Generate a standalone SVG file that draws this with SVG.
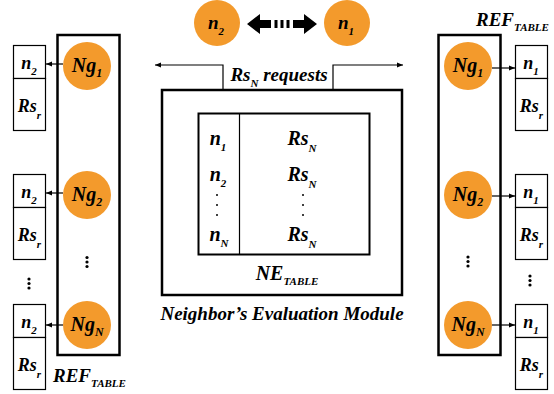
<svg xmlns="http://www.w3.org/2000/svg" width="554" height="394" viewBox="0 0 554 394">
<defs>
<marker id="ah" viewBox="0 0 10 10" refX="10" refY="5" markerWidth="6" markerHeight="6" orient="auto" markerUnits="userSpaceOnUse">
<path d="M0,1 L10,5 L0,9 z" fill="#000"/>
</marker>
</defs>
<style>
text{font-family:"Liberation Serif","Times New Roman",serif;font-weight:700;font-style:italic;fill:#000}
.ng{font-size:20px}
.ref{font-size:19px}
.tbl{font-size:20px}
.box{font-size:18px}
.top{font-size:19px}
.lbl{font-size:19px}
.sub{font-size:11px}
.ssub{font-size:12px}
.node{fill:#F39A2C}
.frame{fill:none;stroke:#000;stroke-width:2.5}
.cell{fill:#fff;stroke:#000;stroke-width:1.2}
.ln{fill:none;stroke:#000;stroke-width:1.2}
.dot{fill:#000}
</style>
<rect width="554" height="394" fill="#fff"/>

<!-- top nodes -->
<g id="n2top"><circle class="node" cx="217" cy="23" r="23"/><text class="top" x="216" y="29" text-anchor="middle">n<tspan class="sub" dy="6">2</tspan></text></g>
<g id="n1top"><circle class="node" cx="347" cy="23" r="23"/><text class="top" x="346" y="29" text-anchor="middle">n<tspan class="sub" dy="6">1</tspan></text></g>

<!-- left REF table -->
<g id="leftRef">
<rect class="frame" x="57.5" y="35" width="62" height="320"/>
<text class="ref" x="53" y="382">REF<tspan class="sub" dy="5">TABLE</tspan></text>
<circle cx="87" cy="257.5" r="1.6" class="dot"/><circle cx="87" cy="262" r="1.6" class="dot"/><circle cx="87" cy="266.5" r="1.6" class="dot"/>
<circle cx="29" cy="279" r="1.6" class="dot"/><circle cx="29" cy="283.5" r="1.6" class="dot"/><circle cx="29" cy="288" r="1.6" class="dot"/>
</g>
<g id="leftNg1"><circle class="node" cx="87" cy="66" r="24"/><text class="ng" x="87" y="72" text-anchor="middle">Ng<tspan class="ssub" dy="5">1</tspan></text></g>
<g id="leftNg2"><circle class="node" cx="87" cy="195" r="24"/><text class="ng" x="87" y="201" text-anchor="middle">Ng<tspan class="ssub" dy="5">2</tspan></text></g>
<g id="leftNgN"><circle class="node" cx="87" cy="325" r="24"/><text class="ng" x="87" y="331" text-anchor="middle">Ng<tspan class="ssub" dy="5">N</tspan></text></g>
<g id="leftBox1"><rect class="cell" x="13.5" y="45.5" width="32" height="33"/><rect class="cell" x="13.5" y="78.5" width="32" height="52"/><text class="box" x="29" y="69" text-anchor="middle">n<tspan class="sub" dy="6">2</tspan></text><text class="box" x="29.5" y="112" text-anchor="middle">Rs<tspan class="sub" dy="7">r</tspan></text></g>
<g id="leftBox2"><rect class="cell" x="13.5" y="174.5" width="32" height="33"/><rect class="cell" x="13.5" y="207.5" width="32" height="52"/><text class="box" x="29" y="198" text-anchor="middle">n<tspan class="sub" dy="6">2</tspan></text><text class="box" x="29.5" y="241" text-anchor="middle">Rs<tspan class="sub" dy="7">r</tspan></text></g>
<g id="leftBox3"><rect class="cell" x="13.5" y="304.5" width="32" height="33"/><rect class="cell" x="13.5" y="337.5" width="32" height="52"/><text class="box" x="29" y="328" text-anchor="middle">n<tspan class="sub" dy="6">2</tspan></text><text class="box" x="29.5" y="371" text-anchor="middle">Rs<tspan class="sub" dy="7">r</tspan></text></g>

<!-- right REF table -->
<g id="rightRef">
<rect class="frame" x="438.5" y="35" width="62" height="320"/>
<text class="ref" x="476" y="26">REF<tspan class="sub" dy="5">TABLE</tspan></text>
<circle cx="468" cy="257" r="1.6" class="dot"/><circle cx="468" cy="261.5" r="1.6" class="dot"/><circle cx="468" cy="266" r="1.6" class="dot"/>
<circle cx="530" cy="276" r="1.6" class="dot"/><circle cx="530" cy="280.5" r="1.6" class="dot"/><circle cx="530" cy="285" r="1.6" class="dot"/>
</g>
<g id="rightNg1"><circle class="node" cx="468" cy="66" r="24"/><text class="ng" x="468" y="72" text-anchor="middle">Ng<tspan class="ssub" dy="5">1</tspan></text></g>
<g id="rightNg2"><circle class="node" cx="468" cy="195" r="24"/><text class="ng" x="468" y="201" text-anchor="middle">Ng<tspan class="ssub" dy="5">2</tspan></text></g>
<g id="rightNgN"><circle class="node" cx="468" cy="325" r="24"/><text class="ng" x="468" y="331" text-anchor="middle">Ng<tspan class="ssub" dy="5">N</tspan></text></g>
<g id="rightBox1"><rect class="cell" x="515.5" y="45.5" width="32" height="33"/><rect class="cell" x="515.5" y="78.5" width="32" height="52"/><text class="box" x="531" y="69" text-anchor="middle">n<tspan class="sub" dy="6">1</tspan></text><text class="box" x="531.5" y="112" text-anchor="middle">Rs<tspan class="sub" dy="7">r</tspan></text></g>
<g id="rightBox2"><rect class="cell" x="515.5" y="174.5" width="32" height="33"/><rect class="cell" x="515.5" y="207.5" width="32" height="52"/><text class="box" x="531" y="198" text-anchor="middle">n<tspan class="sub" dy="6">1</tspan></text><text class="box" x="531.5" y="241" text-anchor="middle">Rs<tspan class="sub" dy="7">r</tspan></text></g>
<g id="rightBox3"><rect class="cell" x="515.5" y="304.5" width="32" height="33"/><rect class="cell" x="515.5" y="337.5" width="32" height="52"/><text class="box" x="531" y="328" text-anchor="middle">n<tspan class="sub" dy="6">1</tspan></text><text class="box" x="531.5" y="371" text-anchor="middle">Rs<tspan class="sub" dy="7">r</tspan></text></g>

<!-- NE module -->
<g id="neModule">
<rect class="frame" x="162" y="90" width="240" height="205"/>
<rect fill="none" stroke="#000" stroke-width="2" x="198.5" y="113.5" width="171" height="141"/>
<line class="ln" x1="239.5" y1="113.5" x2="239.5" y2="254.5"/>
<text class="tbl" x="218" y="145" text-anchor="middle">n<tspan class="sub" dy="6">1</tspan></text>
<text class="tbl" x="218" y="181" text-anchor="middle">n<tspan class="sub" dy="6">2</tspan></text>
<text class="tbl" x="219" y="241" text-anchor="middle">n<tspan class="sub" dy="6">N</tspan></text>
<text class="tbl" x="302" y="145" text-anchor="middle">Rs<tspan class="sub" dy="7">N</tspan></text>
<text class="tbl" x="302" y="181" text-anchor="middle">Rs<tspan class="sub" dy="7">N</tspan></text>
<text class="tbl" x="302" y="241" text-anchor="middle">Rs<tspan class="sub" dy="7">N</tspan></text>
<circle cx="217" cy="195" r="1" class="dot"/><circle cx="217" cy="205" r="1" class="dot"/><circle cx="217" cy="215" r="1" class="dot"/>
<circle cx="303" cy="195" r="1" class="dot"/><circle cx="303" cy="205" r="1" class="dot"/><circle cx="303" cy="215" r="1" class="dot"/>
<text class="tbl" x="287" y="280" text-anchor="middle">NE<tspan class="sub" dy="5">TABLE</tspan></text>
<text class="lbl" x="282" y="320" text-anchor="middle">Neighbor’s Evaluation Module</text>
<text class="lbl" x="279" y="81" text-anchor="middle">Rs<tspan class="sub" dy="6">N</tspan><tspan dy="-6"> requests</tspan></text>
</g>

<!-- connectors -->
<g id="connectors">
<polyline class="ln" points="223,90 223,65 155,65" marker-end="url(#ah)"/>
<polyline class="ln" points="333,90 333,65 403,65" marker-end="url(#ah)"/>
<line class="ln" x1="63" y1="64" x2="46" y2="64" marker-end="url(#ah)"/>
<line class="ln" x1="63" y1="193" x2="46" y2="193" marker-end="url(#ah)"/>
<line class="ln" x1="63" y1="325" x2="46" y2="325" marker-end="url(#ah)"/>
<line class="ln" x1="492" y1="68" x2="515" y2="68" marker-end="url(#ah)"/>
<line class="ln" x1="492" y1="196" x2="515" y2="196" marker-end="url(#ah)"/>
<line class="ln" x1="492" y1="325" x2="515" y2="325" marker-end="url(#ah)"/>
<g id="dblArrow" fill="#000">
<polygon points="247,24 260,14 260,20 271,20 271,28 260,28 260,34"/>
<polygon points="317,24 304,14 304,20 293,20 293,28 304,28 304,34"/>
<rect x="274.5" y="20" width="3" height="8"/>
<rect x="280.5" y="20" width="3" height="8"/>
<rect x="286.5" y="20" width="3" height="8"/>
</g>
</g>
</svg>
